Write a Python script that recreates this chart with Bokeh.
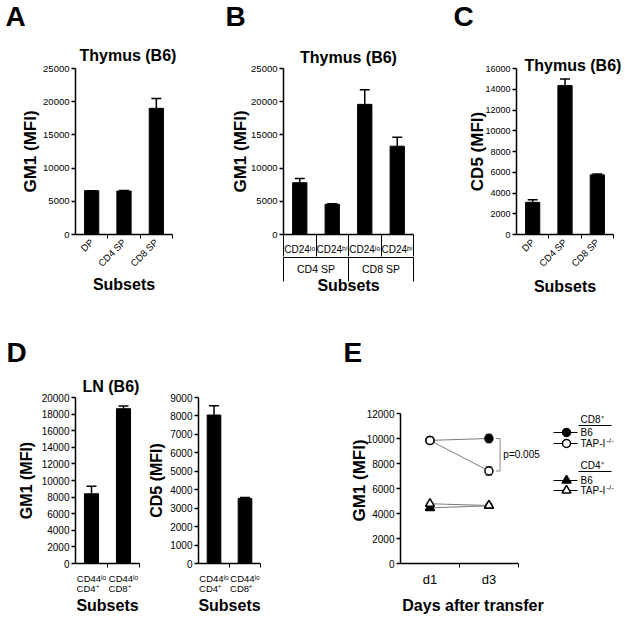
import math
from bokeh.plotting import figure
from bokeh.models import (FactorRange, Range1d, FixedTicker, Whisker, TeeHead,
                          ColumnDataSource, LinearAxis)
from bokeh.layouts import row, column
from bokeh.embed import file_html
from bokeh.resources import INLINE
from bokeh.core.properties import value

FONT = "Liberation Sans"

# ---------------- data ----------------
panel_letters = ["A", "B", "C", "D", "E"]

# Panel A: Thymus (B6), GM1
a_cats = ["DP", "CD4 SP", "CD8 SP"]
a_vals = [6600, 6550, 19000]
a_errs = [0, 60, 1500]

# Panel B: Thymus (B6), GM1 by CD24 level
b_groups = ["CD4 SP", "CD4 SP", "CD8 SP", "CD8 SP"]
b_subs = ["CD24lo", "CD24hi", "CD24lo", "CD24hi"]
b_sub_labels = ["CD24ˡᵒ", "CD24ʰⁱ", "CD24ˡᵒ", "CD24ʰⁱ"]
b_vals = [7800, 4550, 19600, 13300]
b_errs = [650, 80, 2200, 1350]

# Panel C: Thymus (B6), CD5
c_cats = ["DP", "CD4 SP", "CD8 SP"]
c_vals = [3100, 14350, 5750]
c_errs = [250, 650, 80]

# Panel D: LN (B6)
d_cats = ["CD44lo CD4+", "CD44lo CD8+"]
d_labels = ["CD44ˡᵒ\nCD4⁺\u00a0\u00a0\u00a0", "CD44ˡᵒ\nCD8⁺\u00a0\u00a0\u00a0"]
d_gm1 = [8400, 18650]
d_gm1_err = [900, 330]
d_cd5 = [8050, 3530]
d_cd5_err = [500, 50]

# Panel E: GM1 after transfer
e_days = ["d1", "d3"]
e_cd8_b6 = [9850, 10000]
e_cd8_b6_err = [0, 350]
e_cd8_tap = [9850, 7400]
e_cd8_tap_err = [120, 350]
e_cd4_b6 = [4450, 4620]
e_cd4_b6_err = [60, 120]
e_cd4_tap = [4780, 4640]
e_cd4_tap_err = [60, 120]
e_pvalue = "p=0.005"
legend_headers = ["CD8⁺", "CD4⁺"]
legend_strains = ["B6", "TAP-I"]


# ---------------- helpers ----------------
def make_fig(width, height, left, right, top, bottom, x_range, y_range, title=None):
    p = figure(width=width, height=height, x_range=x_range, y_range=y_range,
               x_axis_type=None, output_backend="svg", toolbar_location=None,
               min_border_left=left, min_border_right=right,
               min_border_top=top, min_border_bottom=bottom, title=title)
    p.outline_line_color = None
    p.ygrid.visible = False
    return p


def strip_fig(width, height, y0):
    p = figure(width=width, height=height, x_range=Range1d(0, width),
               y_range=Range1d(y0 + height, y0), x_axis_type=None, y_axis_type=None,
               output_backend="svg", toolbar_location=None, min_border=0, title=None)
    p.outline_line_color = None
    return p


def style_y(p, ticks, tick_size, label, label_size, standoff, bounds=None):
    y = p.yaxis[0]
    y.ticker = FixedTicker(ticks=ticks)
    y.minor_tick_line_color = None
    y.major_tick_in = 0
    y.major_tick_out = 4
    y.axis_line_width = 1.5
    y.axis_line_color = "black"
    y.major_tick_line_width = 1.5
    y.major_tick_line_color = "black"
    y.major_label_text_font = FONT
    y.major_label_text_font_size = tick_size
    y.major_label_text_color = "black"
    y.major_label_standoff = 2
    y.axis_label = label
    y.axis_label_text_font = FONT
    y.axis_label_text_font_style = "bold"
    y.axis_label_text_font_size = label_size
    y.axis_label_text_color = "black"
    y.axis_label_standoff = standoff
    if bounds is not None:
        y.bounds = bounds


def overrides(positions, labels):
    d = {}
    for pos, lab in zip(positions, labels):
        d[float(pos)] = lab
        d[f"{pos:g}"] = lab
    return d


def x_axis(p, positions, labels, boundaries, font_size, standoff, minor_out,
           line_width=1.5, axis_label=None, label_standoff=0, orientation=None,
           bounds=None, line_height=None):
    ax = LinearAxis(ticker=FixedTicker(ticks=positions, minor_ticks=boundaries),
                    major_label_overrides=overrides(positions, labels))
    ax.axis_line_width = line_width
    ax.axis_line_color = "black"
    ax.major_tick_out = 0
    ax.major_tick_in = 0
    ax.major_tick_line_color = None
    ax.minor_tick_out = minor_out
    ax.minor_tick_in = 0
    ax.minor_tick_line_color = "black"
    ax.minor_tick_line_width = 1
    ax.major_label_text_font = FONT
    ax.major_label_text_font_size = font_size
    ax.major_label_text_color = "black"
    ax.major_label_standoff = standoff
    if line_height is not None:
        ax.major_label_text_line_height = line_height
    if orientation is not None:
        ax.major_label_orientation = orientation
    if axis_label:
        ax.axis_label = axis_label
        ax.axis_label_text_font = FONT
        ax.axis_label_text_font_style = "bold"
        ax.axis_label_text_font_size = "16px"
        ax.axis_label_text_color = "black"
        ax.axis_label_standoff = label_standoff
    if bounds is not None:
        ax.bounds = bounds
    p.add_layout(ax, "below")
    return ax


def bars(p, xs, vals, errs, width=0.44):
    src = ColumnDataSource(dict(x=xs, top=vals,
                                upper=[v + e for v, e in zip(vals, errs)]))
    p.add_layout(Whisker(base="x", lower="top", upper="upper", source=src,
                         dimension="height", line_color="black", line_width=1.5,
                         upper_head=TeeHead(size=10, line_color="black", line_width=1.5),
                         lower_head=None))
    p.vbar(x="x", top="top", width=width, source=src,
           fill_color="black", line_color="black")


def style_title(p, align, offset, standoff):
    p.title.align = align
    p.title.offset = offset
    p.title.standoff = standoff
    p.title.text_font = FONT
    p.title.text_font_size = "16px"
    p.title.text_font_style = "bold"
    p.title.text_color = "black"


def centers(n):
    return [i + 0.5 for i in range(n)]


# ---------------- letter strips ----------------
strip_top = strip_fig(625, 32, 0)
strip_top.text(x=[5, 225, 453], y=[16, 16, 16], text=panel_letters[:3],
               text_font=value(FONT), text_font_size="28px", text_font_style="bold",
               text_baseline="middle", text_align="left", text_color="black")
strip_mid = strip_fig(625, 70, 300)
strip_mid.text(x=[6, 343], y=[352, 352], text=panel_letters[3:],
               text_font=value(FONT), text_font_size="28px", text_font_style="bold",
               text_baseline="middle", text_align="left", text_color="black")

# ---------------- Panel A ----------------
pa = make_fig(200, 268, 75, 28, 36, 66,
              FactorRange(factors=a_cats, range_padding=0), Range1d(0, 25000),
              title="Thymus (B6)")
style_title(pa, "left", 4, 10)
style_y(pa, list(range(0, 25001, 5000)), "9.5px", "GM1 (MFI)", "17px", 0)
x_axis(pa, centers(len(a_cats)), a_cats, list(range(1, len(a_cats) + 1)),
       "9.5px", 2, 4, axis_label="Subsets", label_standoff=0, orientation=math.pi / 4)
bars(pa, a_cats, a_vals, a_errs)

# ---------------- Panel B ----------------
b_factors = list(zip(b_groups, b_subs))
n_b = len(b_factors)
pb = make_fig(240, 268, 83, 27, 36, 66,
              FactorRange(factors=b_factors, range_padding=0, group_padding=0),
              Range1d(0, 25000), title="Thymus (B6)")
style_title(pb, "center", 0, 6)
style_y(pb, list(range(0, 25001, 5000)), "9.5px", "GM1 (MFI)", "17px", -2)
groups_unique = list(dict.fromkeys(b_groups))
group_pos = [sum(i + 0.5 for i in range(n_b) if b_groups[i] == g) /
             b_groups.count(g) for g in groups_unique]
group_bounds = [0] + [i for i in range(1, n_b) if b_groups[i] != b_groups[i - 1]] + [n_b]
# first row: sub-categories with short separators
x_axis(pb, centers(n_b), b_sub_labels, list(range(0, n_b + 1)), "10px", -13, 22)
# second row: groups with long separators and the axis title
x_axis(pb, group_pos, groups_unique, group_bounds, "10.5px", -19, 24, line_width=1,
       axis_label="Subsets", label_standoff=-1)
bars(pb, b_factors, b_vals, b_errs)

# ---------------- Panel C ----------------
pc = make_fig(185, 268, 76, 12, 36, 66,
              FactorRange(factors=c_cats, range_padding=0), Range1d(0, 16000),
              title="Thymus (B6)")
style_title(pc, "left", 8, -10)
style_y(pc, list(range(0, 16001, 2000)), "9px", "CD5 (MFI)", "17px", -5)
x_axis(pc, centers(len(c_cats)), c_cats, list(range(1, len(c_cats) + 1)),
       "9.5px", 2, 4, axis_label="Subsets", label_standoff=2, orientation=math.pi / 4)
bars(pc, c_cats, c_vals, c_errs)

# ---------------- Panel D ----------------
pd1 = make_fig(145, 248, 75, 6, 27, 55,
               FactorRange(factors=d_cats, range_padding=0), Range1d(0, 20000),
               title="LN (B6)")
style_title(pd1, "left", 7, 6)
style_y(pd1, list(range(0, 20001, 2000)), "10px", "GM1 (MFI)", "16px", 4)
x_axis(pd1, centers(len(d_cats)), d_labels, list(range(1, len(d_cats) + 1)),
       "9.5px", 5, 4, axis_label="Subsets", label_standoff=0, line_height=0.95)
bars(pd1, d_cats, d_gm1, d_gm1_err)

pd2 = make_fig(155, 248, 52, 40, 27, 55,
               FactorRange(factors=d_cats, range_padding=0), Range1d(0, 9000))
style_y(pd2, list(range(0, 9001, 1000)), "10px", "CD5 (MFI)", "16px", 2)
x_axis(pd2, centers(len(d_cats)), d_labels, list(range(1, len(d_cats) + 1)),
       "9.5px", 5, 4, axis_label="Subsets", label_standoff=0, line_height=0.95)
bars(pd2, d_cats, d_cd5, d_cd5_err)

# ---------------- Panel E ----------------
e_x = centers(len(e_days))
e_x_end = 2.46      # frame extends right of the axis to hold the p-value text
e_y_end = 13280     # frame extends above the 12000 tick
pe = make_fig(245, 248, 100, 0, 27, 55, Range1d(0, e_x_end), Range1d(0, e_y_end))
style_y(pe, list(range(0, 12001, 2000)), "10px", "GM1 (MFI)", "17px", -5,
        bounds=(0, 12000))
x_axis(pe, e_x, e_days, list(range(1, len(e_days) + 1)), "13px", 4, 4,
       axis_label="Days after transfer", label_standoff=7, bounds=(0, len(e_days)))

series = [
    (e_cd4_b6, e_cd4_b6_err, "triangle", "black", 9),
    (e_cd4_tap, e_cd4_tap_err, "triangle", "white", 9),
    (e_cd8_b6, e_cd8_b6_err, "circle", "black", 8),
    (e_cd8_tap, e_cd8_tap_err, "circle", "white", 8),
]
for vals, errs, marker, fill, size in series:
    pe.line(x=e_x, y=vals, line_color="#7a7a7a", line_width=1)
for vals, errs, marker, fill, size in series:
    src = ColumnDataSource(dict(x=e_x, y=vals,
                                lo=[v - e for v, e in zip(vals, errs)],
                                hi=[v + e for v, e in zip(vals, errs)]))
    pe.add_layout(Whisker(base="x", lower="lo", upper="hi", source=src,
                          dimension="height", line_color="#666666", line_width=1,
                          upper_head=TeeHead(size=7, line_color="#666666", line_width=1),
                          lower_head=TeeHead(size=7, line_color="#666666", line_width=1)))
    pe.scatter(x="x", y="y", source=src, marker=marker, size=size,
               fill_color=fill, line_color="black", line_width=1.5)

d3 = e_x[e_days.index("d3")]
pe.line(x=[d3 + 0.12, d3 + 0.19, d3 + 0.19, d3 + 0.12],
        y=[e_cd8_b6[1], e_cd8_b6[1], e_cd8_tap[1], e_cd8_tap[1]],
        line_color="#8a8a8a", line_width=1)
pe.text(x=[d3 + 0.245], y=[(e_cd8_b6[1] + e_cd8_tap[1]) / 2], text=[e_pvalue],
        text_font=value(FONT), text_font_size="10px", text_baseline="middle",
        text_align="left", text_color="black")

# ---------------- Legend for E (page-pixel coordinates) ----------------
pl = figure(width=80, height=248, x_range=Range1d(545, 625), y_range=Range1d(563, 397),
            x_axis_type=None, y_axis_type=None, output_backend="svg",
            toolbar_location=None, min_border_left=0, min_border_right=0,
            min_border_top=27, min_border_bottom=55, title=None)
pl.outline_line_color = None
hdr_y = [419, 465]
row_y = [[432, 443], [480, 490]]
markers = ["circle", "triangle"]
fills = ["black", "white"]
for g, header in enumerate(legend_headers):
    pl.text(x=[580], y=[hdr_y[g]], text=[header], text_font=value(FONT),
            text_font_size="10px", text_baseline="middle", text_color="black")
    pl.segment(x0=[578], y0=[hdr_y[g] + 6], x1=[611], y1=[hdr_y[g] + 6],
               line_color="black", line_width=1)
    for k, strain in enumerate(legend_strains):
        yy = row_y[g][k]
        pl.segment(x0=[553], y0=[yy], x1=[577], y1=[yy], line_color="black", line_width=1)
        pl.scatter(x=[566], y=[yy], marker=markers[g], size=8 if g == 0 else 9,
                   fill_color=fills[k], line_color="black", line_width=1.5)
        pl.text(x=[580], y=[yy], text=[strain], text_font=value(FONT),
                text_font_size="10px", text_baseline="middle", text_color="black")
        if strain == "TAP-I":
            pl.text(x=[606], y=[yy - 3], text=["-/-"], text_font=value(FONT),
                    text_font_size="7.5px", text_baseline="middle", text_color="black")

layout = column(strip_top,
                row(pa, pb, pc, spacing=0),
                strip_mid,
                row(pd1, pd2, pe, pl, spacing=0),
                spacing=0)
open("out.html", "w").write(file_html(layout, INLINE))
